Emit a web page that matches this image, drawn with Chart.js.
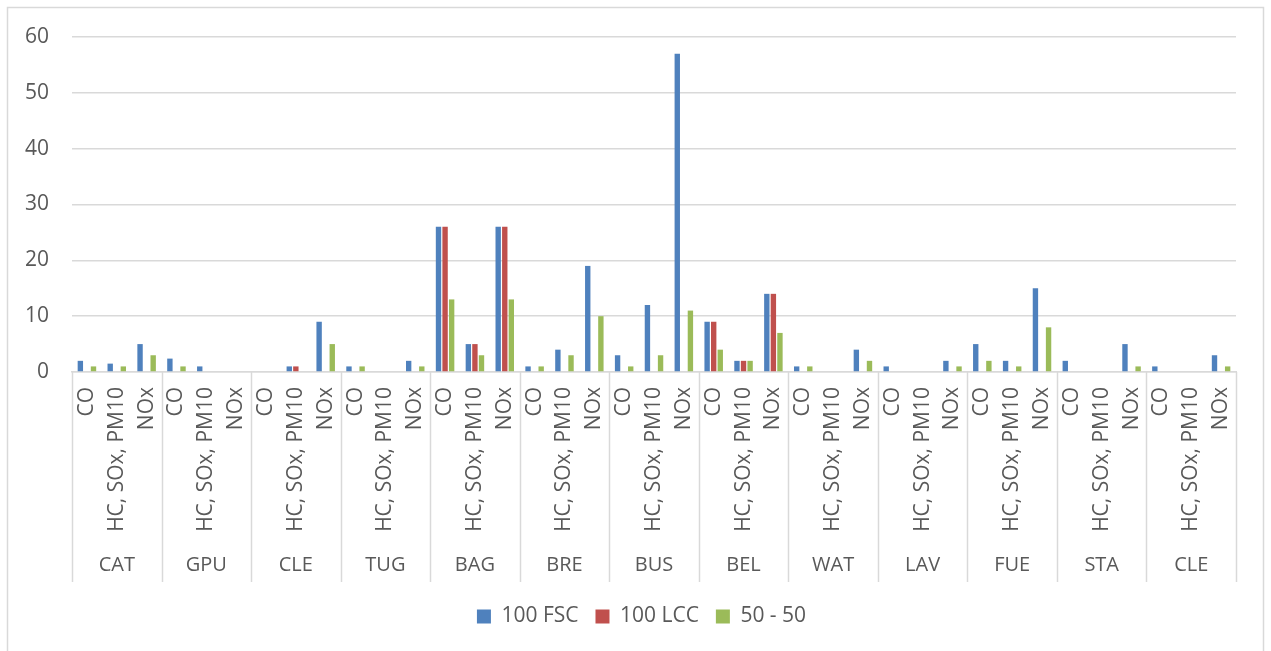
<!DOCTYPE html>
<html>
<head>
<meta charset="utf-8">
<title>Emissions by equipment</title>
<script src="https://cdn.jsdelivr.net/npm/chart.js@4/dist/chart.umd.min.js"></script>
<style>
  html, body { margin: 0; padding: 0; background: #ffffff; }
  #wrap { width: 1271px; height: 651px; position: relative; }
</style>
</head>
<body>
<div id="wrap"><canvas id="chart" width="1271" height="651"></canvas></div>
<script>
// Equipment groups and the pollutant classes shown under each one
const groups = ['CAT', 'GPU', 'CLE', 'TUG', 'BAG', 'BRE', 'BUS', 'BEL', 'WAT', 'LAV', 'FUE', 'STA', 'CLE'];
const pollutants = ['CO', 'HC, SOx, PM10', 'NOx'];

// Series values, three per group (CO, HC/SOx/PM10, NOx)
const fsc100 = [2, 1.5, 5,  2.4, 1, 0,  0, 1, 9,  1, 0, 2,  26, 5, 26,  1, 4, 19,  3, 12, 57,  9, 2, 14,  1, 0, 4,  1, 0, 2,  5, 2, 15,  2, 0, 5,  1, 0, 3];
const lcc100 = [0, 0, 0,  0, 0, 0,  0, 1, 0,  0, 0, 0,  26, 5, 26,  0, 0, 0,  0, 0, 0,  9, 2, 14,  0, 0, 0,  0, 0, 0,  0, 0, 0,  0, 0, 0,  0, 0, 0];
const mix5050 = [1, 1, 3,  1, 0, 0,  0, 0, 5,  1, 0, 1,  13, 3, 13,  1, 3, 10,  1, 3, 11,  4, 2, 7,  1, 0, 2,  0, 0, 1,  2, 1, 8,  0, 0, 1,  0, 0, 1];

const seriesNames = ['100 FSC', '100 LCC', '50 - 50'];
const yTicks = [0, 10, 20, 30, 40, 50, 60];

const labels = [];
groups.forEach(() => pollutants.forEach(p => labels.push(p)));

const TEXT = '#595959';
const GRID = '#D9D9D9';
const FONT = "'Open Sans', sans-serif";
const AXIS_H = 217;

// White page with a thin frame round the chart
const frame = {
  id: 'frame',
  beforeDraw(chart) {
    const ctx = chart.ctx;
    ctx.save();
    ctx.fillStyle = '#ffffff';
    ctx.fillRect(0, 0, chart.width, chart.height);
    ctx.strokeStyle = GRID;
    ctx.lineWidth = 1.5;
    ctx.strokeRect(7.5, 7.5, 1256, 700);
    ctx.restore();
  }
};

// Second row of the category axis: group separators and group names
const groupAxis = {
  id: 'groupAxis',
  afterDraw(chart) {
    const xs = chart.scales.x;
    const ctx = chart.ctx;
    const top = xs.top;
    const per = pollutants.length;
    ctx.save();
    ctx.strokeStyle = GRID;
    ctx.lineWidth = 1.5;
    for (let g = 0; g <= groups.length; g++) {
      let px;
      if (g === 0) px = xs.left;
      else if (g === groups.length) px = xs.right;
      else px = (xs.getPixelForValue(g * per - 1) + xs.getPixelForValue(g * per)) / 2;
      px = Math.round(px) + 0.5;
      ctx.beginPath();
      ctx.moveTo(px, top);
      ctx.lineTo(px, top + 210);
      ctx.stroke();
    }
    ctx.fillStyle = TEXT;
    ctx.font = '20px ' + FONT;
    ctx.textAlign = 'center';
    ctx.textBaseline = 'middle';
    groups.forEach((name, g) => {
      ctx.fillText(name, xs.getPixelForValue(g * per + 1), top + 193);
    });
    ctx.restore();
  }
};

new Chart(document.getElementById('chart'), {
  type: 'bar',
  data: {
    labels: labels,
    datasets: [
      { label: seriesNames[0], data: fsc100, backgroundColor: '#4F81BD' },
      { label: seriesNames[1], data: lcc100, backgroundColor: '#C0504D' },
      { label: seriesNames[2], data: mix5050, backgroundColor: '#9BBB59' }
    ]
  },
  options: {
    responsive: false,
    animation: false,
    devicePixelRatio: 1,
    datasets: { bar: { categoryPercentage: 0.66, barPercentage: 0.82, borderWidth: 0 } },
    layout: { padding: { top: 37, left: 12, right: 0, bottom: 14 } },
    plugins: {
      tooltip: { enabled: false },
      legend: {
        position: 'bottom',
        labels: {
          color: TEXT,
          font: { family: FONT, size: 21 },
          boxWidth: 14,
          boxHeight: 14,
          padding: 17
        }
      }
    },
    scales: {
      x: {
        grid: { display: false, drawTicks: false },
        border: { display: true, color: GRID, width: 1.5 },
        ticks: {
          autoSkip: false,
          minRotation: 90,
          maxRotation: 90,
          padding: 15,
          color: TEXT,
          font: { family: FONT, size: 21 }
        },
        afterFit(scale) { scale.height = AXIS_H; }
      },
      y: {
        min: 0,
        max: 60,
        afterBuildTicks(scale) { scale.ticks = yTicks.map(v => ({ value: v })); },
        grid: { color: GRID, lineWidth: 1.5, drawTicks: false },
        border: { display: false },
        ticks: {
          padding: 23,
          color: TEXT,
          font: { family: FONT, size: 21 }
        },
        afterFit(scale) { scale.width = 60; }
      },
      // empty right margin of the plot
      yRight: {
        position: 'right',
        grid: { display: false, drawTicks: false },
        border: { display: false },
        ticks: { display: false },
        afterFit(scale) { scale.width = 35; }
      }
    }
  },
  plugins: [frame, groupAxis]
});
</script>
</body>
</html>
